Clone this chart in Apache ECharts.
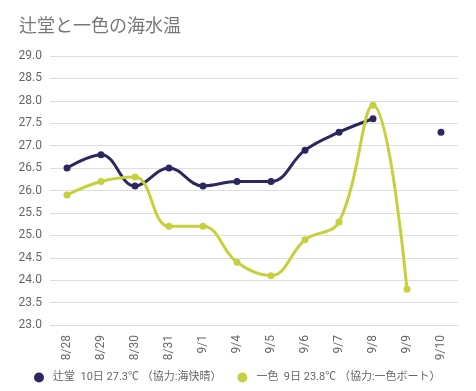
<!DOCTYPE html>
<html><head><meta charset="utf-8">
<script src="https://cdn.jsdelivr.net/npm/echarts@6/dist/echarts.min.js"></script>
<style>html,body{margin:0;padding:0;background:#fff}#c{width:476px;height:391px}</style>
</head><body><div id="c"></div>
<script>
const categories = ['8/28','8/29','8/30','8/31','9/1','9/4','9/5','9/6','9/7','9/8','9/9','9/10'];
const tsujido = [26.5,26.8,26.1,26.5,26.1,26.2,26.2,26.9,27.3,27.6,null,27.3];
const isshiki = [25.9,26.2,26.3,25.2,25.2,24.4,24.1,24.9,25.3,27.9,23.8,null];
const seriesNames = ['辻堂  10日 27.3℃ （協力:海快晴）','一色  9日 23.8℃ （協力:一色ボート）'];
const colors = ['#2b275f','#c6d03c'];
const font = 'Roboto, "Noto Sans CJK JP", sans-serif';
const chart = echarts.init(document.getElementById('c'));
chart.setOption({
  animation:false,
  textStyle:{fontFamily:font},
  title:{text:'辻堂と一色の海水温',left:14,top:14,textStyle:{fontSize:18,fontWeight:'normal',color:'#777',fontFamily:font}},
  legend:{bottom:3,left:29,width:460,itemWidth:18,itemHeight:10,itemGap:16,icon:'circle',
    textStyle:{fontSize:11,color:'#666',fontFamily:font},data:seriesNames},
  grid:{left:50,right:18,top:56,bottom:66},
  xAxis:{type:'category',data:categories,boundaryGap:true,
    axisLine:{show:true,lineStyle:{color:'#ddd'}},axisTick:{show:false},
    axisLabel:{rotate:90,color:'#666',fontSize:12,margin:10}},
  yAxis:{type:'value',min:23,max:29,interval:0.5,
    axisLabel:{color:'#666',fontSize:12,formatter:v=>v.toFixed(1),margin:8},
    splitLine:{lineStyle:{color:'#ddd',width:1}},axisLine:{show:false},axisTick:{show:false}},
  series:[
    {name:seriesNames[0],type:'line',data:tsujido,smooth:0.4,connectNulls:false,color:colors[0],
     lineStyle:{width:3},symbol:'circle',symbolSize:7,itemStyle:{color:colors[0]}},
    {name:seriesNames[1],type:'line',data:isshiki,smooth:0.4,connectNulls:false,color:colors[1],
     lineStyle:{width:3},symbol:'circle',symbolSize:7,itemStyle:{color:colors[1]}}
  ]
});
</script></body></html>
